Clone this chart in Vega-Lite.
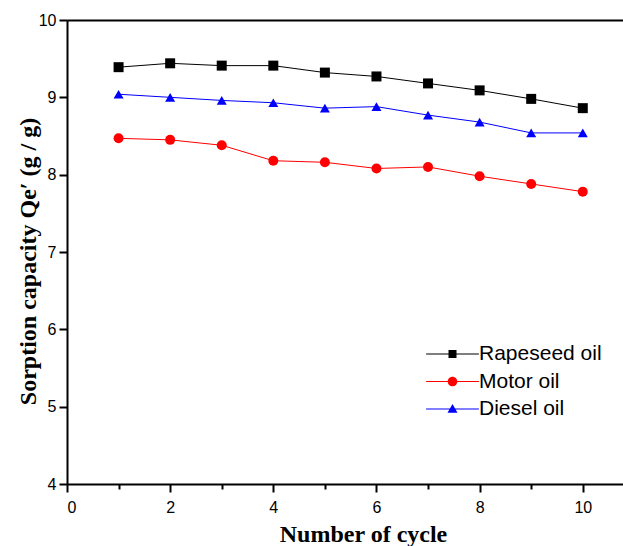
{
  "$schema": "https://vega.github.io/schema/vega-lite/v6.json",
  "width": 556,
  "height": 464,
  "autosize": "none",
  "padding": {"left": 67, "top": 20, "right": 0, "bottom": 62},
  "background": "white",
  "config": {
    "view": {"stroke": null},
    "axis": {
      "domainColor": "black",
      "domainWidth": 2,
      "tickColor": "black",
      "tickWidth": 2,
      "grid": false,
      "labelFont": "Liberation Sans",
      "labelFontSize": 16,
      "labelColor": "black",
      "titleFont": "Liberation Serif",
      "titleFontSize": 24,
      "titleFontWeight": "bold",
      "titleColor": "black"
    }
  },
  "data": {
    "values": [
      {"series": "Rapeseed oil", "cycle": 1, "q": 9.39},
      {"series": "Rapeseed oil", "cycle": 2, "q": 9.44},
      {"series": "Rapeseed oil", "cycle": 3, "q": 9.41},
      {"series": "Rapeseed oil", "cycle": 4, "q": 9.41},
      {"series": "Rapeseed oil", "cycle": 5, "q": 9.32},
      {"series": "Rapeseed oil", "cycle": 6, "q": 9.27},
      {"series": "Rapeseed oil", "cycle": 7, "q": 9.18},
      {"series": "Rapeseed oil", "cycle": 8, "q": 9.09},
      {"series": "Rapeseed oil", "cycle": 9, "q": 8.98},
      {"series": "Rapeseed oil", "cycle": 10, "q": 8.86},
      {"series": "Motor oil", "cycle": 1, "q": 8.47},
      {"series": "Motor oil", "cycle": 2, "q": 8.45},
      {"series": "Motor oil", "cycle": 3, "q": 8.38},
      {"series": "Motor oil", "cycle": 4, "q": 8.18},
      {"series": "Motor oil", "cycle": 5, "q": 8.16},
      {"series": "Motor oil", "cycle": 6, "q": 8.08},
      {"series": "Motor oil", "cycle": 7, "q": 8.10},
      {"series": "Motor oil", "cycle": 8, "q": 7.98},
      {"series": "Motor oil", "cycle": 9, "q": 7.88},
      {"series": "Motor oil", "cycle": 10, "q": 7.78},
      {"series": "Diesel oil", "cycle": 1, "q": 9.04},
      {"series": "Diesel oil", "cycle": 2, "q": 9.00},
      {"series": "Diesel oil", "cycle": 3, "q": 8.96},
      {"series": "Diesel oil", "cycle": 4, "q": 8.93},
      {"series": "Diesel oil", "cycle": 5, "q": 8.86},
      {"series": "Diesel oil", "cycle": 6, "q": 8.88},
      {"series": "Diesel oil", "cycle": 7, "q": 8.77},
      {"series": "Diesel oil", "cycle": 8, "q": 8.68},
      {"series": "Diesel oil", "cycle": 9, "q": 8.54},
      {"series": "Diesel oil", "cycle": 10, "q": 8.54}
    ]
  },
  "layer": [
    {
      "mark": {"type": "line", "strokeWidth": 1},
      "encoding": {
        "x": {
          "field": "cycle", "type": "quantitative",
          "scale": {"domain": [0, 10.78], "nice": false, "zero": false},
          "axis": {
            "orient": "bottom",
            "values": [0, 1, 2, 3, 4, 5, 6, 7, 8, 9, 10],
            "labelExpr": "datum.value % 2 === 0 ? datum.label : ''",
            "tickSize": {"condition": {"test": "datum.value % 2 === 0", "value": 8}, "value": 5},
            "labelPadding": 7,
            "title": "Number of  cycle",
            "titleX": 296,
            "titleY": 57,
            "titleBaseline": "alphabetic",
            "titleAlign": "center",
            "titleAnchor": null
          }
        },
        "y": {
          "field": "q", "type": "quantitative",
          "scale": {"domain": [4, 10], "nice": false, "zero": false},
          "axis": {
            "values": [4, 4.5, 5, 5.5, 6, 6.5, 7, 7.5, 8, 8.5, 9, 9.5, 10],
            "labelExpr": "datum.value % 1 === 0 ? format(datum.value, 'd') : ''",
            "tickSize": {"condition": {"test": "datum.value % 1 === 0", "value": 8}, "value": 5},
            "labelPadding": 3,
            "title": "Sorption capacity Qe′ (g / g)",
            "titleX": -39,
            "titleY": 241,
            "titleAngle": -90,
            "titleBaseline": "middle",
            "titleAlign": "center",
            "titleAnchor": null
          }
        },
        "color": {
          "field": "series", "type": "nominal",
          "scale": {"domain": ["Rapeseed oil", "Motor oil", "Diesel oil"], "range": ["black", "#ff0000", "#0000ff"]},
          "legend": null
        }
      }
    },
    {
      "mark": {"type": "point", "filled": true, "size": 100, "opacity": 1},
      "encoding": {
        "x": {"field": "cycle", "type": "quantitative", "axis": null},
        "y": {"field": "q", "type": "quantitative"},
        "color": {
          "field": "series", "type": "nominal",
          "scale": {"domain": ["Rapeseed oil", "Motor oil", "Diesel oil"], "range": ["black", "#ff0000", "#0000ff"]},
          "legend": null
        },
        "shape": {
          "field": "series", "type": "nominal",
          "scale": {"domain": ["Rapeseed oil", "Motor oil", "Diesel oil"], "range": ["square", "circle", "triangle-up"]},
          "legend": null
        }
      }
    },
    {
      "mark": {"type": "point", "filled": true, "size": 64, "opacity": 0},
      "encoding": {
        "x": {
          "field": "cycle", "type": "quantitative",
          "axis": {"orient": "top", "labels": false, "ticks": false, "title": null, "domainWidth": 2, "domainColor": "black"}
        },
        "y": {"field": "q", "type": "quantitative"},
        "color": {
          "field": "series", "type": "nominal",
          "scale": {"domain": ["Rapeseed oil", "Motor oil", "Diesel oil"], "range": ["black", "#ff0000", "#0000ff"]},
          "legend": {
            "orient": "none",
            "legendX": 375,
            "legendY": 323.5,
            "title": null,
            "padding": 0,
            "labelFont": "Liberation Sans",
            "labelFontSize": 21,
            "labelColor": "black",
            "labelOffset": 16,
            "rowPadding": 5.5,
            "symbolSize": 64,
            "symbolOpacity": 1,
            "symbolStrokeWidth": 0
          }
        },
        "shape": {
          "field": "series", "type": "nominal",
          "scale": {
            "domain": ["Rapeseed oil", "Motor oil", "Diesel oil"],
            "range": [
              "M-6.6,-0.14H6.6V0.14H-6.6Z M-1,-1H1V1H-1Z",
              "M-6.6,-0.14H6.6V0.14H-6.6Z M-1.2,0A1.2,1.2,0,1,1,1.2,0A1.2,1.2,0,1,1,-1.2,0Z",
              "M-6.6,-0.14H6.6V0.14H-6.6Z M0,-1.25L1.25,0.95H-1.25Z"
            ]
          },
          "legend": {
            "orient": "none",
            "legendX": 375,
            "legendY": 323.5,
            "title": null,
            "padding": 0,
            "labelFont": "Liberation Sans",
            "labelFontSize": 21,
            "labelColor": "black",
            "labelOffset": 16,
            "rowPadding": 5.5,
            "symbolSize": 64,
            "symbolOpacity": 1,
            "symbolStrokeWidth": 0
          }
        }
      }
    }
  ],
  "resolve": {"scale": {"shape": "independent", "color": "independent"}, "axis": {"x": "independent"}}
}
